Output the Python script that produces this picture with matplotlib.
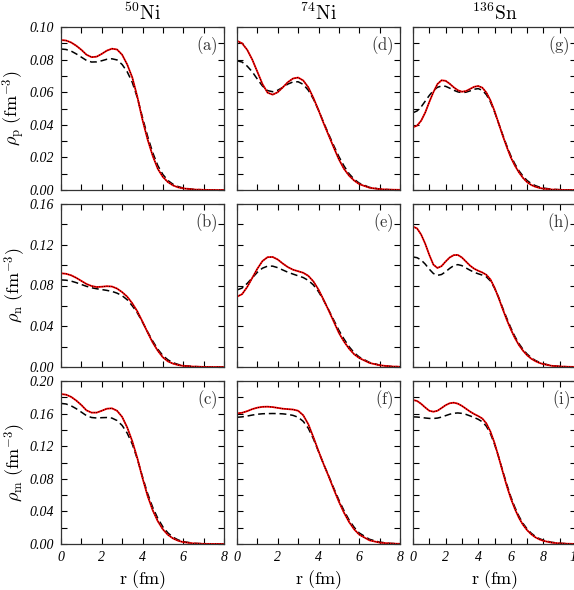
import matplotlib
matplotlib.use('Agg')
import matplotlib.pyplot as plt
from matplotlib.ticker import MultipleLocator, FuncFormatter

plt.rcParams['mathtext.fontset'] = 'cm'
plt.rcParams['font.family'] = 'serif'
plt.rcParams['font.serif'] = ['Liberation Serif', 'DejaVu Serif']

# radial grids (fm)
r_ni = [0, 0.25, 0.5, 0.75, 1, 1.25, 1.5, 1.75, 2, 2.25, 2.5, 2.75, 3, 3.25, 3.5, 3.75,
        4, 4.25, 4.5, 4.75, 5, 5.25, 5.5, 5.75, 6, 6.5, 7, 7.5, 8]
r_sn = [0, 0.25, 0.5, 0.75, 1, 1.25, 1.5, 1.75, 2, 2.25, 2.5, 2.75, 3, 3.25, 3.5, 3.75,
        4, 4.25, 4.5, 4.75, 5, 5.25, 5.5, 5.75, 6, 6.25, 6.5, 6.75, 7, 7.25, 7.5, 7.75,
        8, 8.5, 9, 9.5, 10]

# 50Ni  (red = solid/dotted, blk = dashed)
ni50_p_red = [0.0920, 0.0917, 0.0905, 0.0885, 0.0860, 0.0830, 0.0815, 0.0818, 0.0835, 0.0855, 0.0867, 0.0862, 0.0830, 0.0770,
              0.0690, 0.0570, 0.0430, 0.0310, 0.0210, 0.0130, 0.0080, 0.0048, 0.0028, 0.0016, 0.0010, 0.0003, 0.0001, 0.0, 0.0]
ni50_p_blk = [0.0865, 0.0862, 0.0852, 0.0835, 0.0815, 0.0795, 0.0785, 0.0786, 0.0793, 0.0802, 0.0805, 0.0798, 0.0770, 0.0725,
              0.0660, 0.0565, 0.0445, 0.0330, 0.0230, 0.0150, 0.0095, 0.0058, 0.0035, 0.0021, 0.0012, 0.0004, 0.0001, 0.0, 0.0]
ni50_n_red = [0.0920, 0.0915, 0.0900, 0.0875, 0.0845, 0.0815, 0.0795, 0.0785, 0.0788, 0.0793, 0.0790, 0.0770, 0.0735, 0.0690,
              0.0625, 0.0545, 0.0445, 0.0340, 0.0240, 0.0160, 0.0095, 0.0055, 0.0033, 0.0019, 0.0011, 0.0004, 0.0001, 0.0, 0.0]
ni50_n_blk = [0.0855, 0.0852, 0.0843, 0.0828, 0.0810, 0.0792, 0.0778, 0.0768, 0.0760, 0.0752, 0.0742, 0.0725, 0.0700, 0.0660,
              0.0600, 0.0530, 0.0440, 0.0345, 0.0255, 0.0175, 0.0112, 0.0070, 0.0042, 0.0025, 0.0014, 0.0005, 0.0001, 0.0, 0.0]
ni50_m_red = [0.1840, 0.1832, 0.1805, 0.1760, 0.1705, 0.1640, 0.1612, 0.1612, 0.1635, 0.1660, 0.1665, 0.1635, 0.1560, 0.1430,
              0.1260, 0.1050, 0.0810, 0.0590, 0.0415, 0.0280, 0.0180, 0.0112, 0.0068, 0.0040, 0.0023, 0.0007, 0.0002, 0.0001, 0.0]
ni50_m_blk = [0.1725, 0.1718, 0.1695, 0.1660, 0.1618, 0.1575, 0.1552, 0.1546, 0.1550, 0.1552, 0.1545, 0.1515, 0.1455, 0.1360,
              0.1225, 0.1040, 0.0825, 0.0620, 0.0450, 0.0315, 0.0210, 0.0135, 0.0083, 0.0050, 0.0029, 0.0009, 0.0003, 0.0001, 0.0]

# 74Ni
ni74_p_red = [0.0915, 0.0900, 0.0860, 0.0800, 0.0725, 0.0650, 0.0597, 0.0585, 0.0600, 0.0630, 0.0662, 0.0684, 0.0690, 0.0672,
              0.0630, 0.0565, 0.0490, 0.0410, 0.0335, 0.0260, 0.0188, 0.0130, 0.0088, 0.0058, 0.0036, 0.0014, 0.0005, 0.0002, 0.0001]
ni74_p_blk = [0.0793, 0.0785, 0.0760, 0.0725, 0.0680, 0.0638, 0.0610, 0.0603, 0.0612, 0.0630, 0.0650, 0.0663, 0.0664, 0.0648,
              0.0612, 0.0558, 0.0490, 0.0415, 0.0342, 0.0272, 0.0205, 0.0148, 0.0100, 0.0066, 0.0042, 0.0016, 0.0006, 0.0002, 0.0001]
ni74_n_red = [0.0690, 0.0715, 0.0785, 0.0875, 0.0965, 0.1040, 0.1078, 0.1080, 0.1055, 0.1015, 0.0980, 0.0955, 0.0940, 0.0925,
              0.0895, 0.0840, 0.0760, 0.0660, 0.0555, 0.0445, 0.0335, 0.0250, 0.0180, 0.0125, 0.0088, 0.0040, 0.0017, 0.0006, 0.0002]
ni74_n_blk = [0.0756, 0.0775, 0.0820, 0.0875, 0.0930, 0.0970, 0.0990, 0.0990, 0.0975, 0.0952, 0.0930, 0.0912, 0.0895, 0.0878,
              0.0850, 0.0805, 0.0740, 0.0655, 0.0560, 0.0460, 0.0360, 0.0275, 0.0200, 0.0140, 0.0098, 0.0045, 0.0019, 0.0007, 0.0002]
ni74_m_red = [0.1603, 0.1610, 0.1630, 0.1655, 0.1673, 0.1683, 0.1685, 0.1680, 0.1670, 0.1660, 0.1655, 0.1650, 0.1635, 0.1580,
              0.1470, 0.1310, 0.1140, 0.0980, 0.0830, 0.0670, 0.0520, 0.0385, 0.0270, 0.0180, 0.0115, 0.0045, 0.0017, 0.0006, 0.0002]
ni74_m_blk = [0.1555, 0.1560, 0.1570, 0.1582, 0.1592, 0.1598, 0.1600, 0.1601, 0.1600, 0.1597, 0.1590, 0.1578, 0.1555, 0.1505,
              0.1420, 0.1290, 0.1135, 0.0980, 0.0835, 0.0685, 0.0540, 0.0410, 0.0295, 0.0205, 0.0135, 0.0058, 0.0023, 0.0008, 0.0003]

# 136Sn
sn136_p_red = [0.0385, 0.0395, 0.0425, 0.0475, 0.0540, 0.0600, 0.0650, 0.0673, 0.0670, 0.0652, 0.0630, 0.0612, 0.0603, 0.0607,
               0.0620, 0.0633, 0.0638, 0.0628, 0.0598, 0.0550, 0.0485, 0.0410, 0.0335, 0.0265, 0.0200, 0.0150, 0.0108, 0.0074,
               0.0048, 0.0031, 0.0020, 0.0013, 0.0008, 0.0003, 0.0001, 0.0, 0.0]
sn136_p_blk = [0.0474, 0.0485, 0.0510, 0.0545, 0.0580, 0.0610, 0.0630, 0.0638, 0.0636, 0.0625, 0.0612, 0.0602, 0.0597, 0.0600,
               0.0608, 0.0618, 0.0622, 0.0612, 0.0585, 0.0540, 0.0480, 0.0410, 0.0340, 0.0272, 0.0210, 0.0160, 0.0118, 0.0085,
               0.0058, 0.0040, 0.0027, 0.0018, 0.0012, 0.0005, 0.0002, 0.0001, 0.0]
sn136_n_red = [0.1378, 0.1360, 0.1300, 0.1210, 0.1100, 0.1005, 0.0972, 0.0990, 0.1035, 0.1075, 0.1098, 0.1100, 0.1075, 0.1035,
               0.0995, 0.0965, 0.0945, 0.0928, 0.0905, 0.0860, 0.0780, 0.0680, 0.0570, 0.0465, 0.0370, 0.0285, 0.0215, 0.0160,
               0.0115, 0.0082, 0.0058, 0.0040, 0.0028, 0.0012, 0.0005, 0.0002, 0.0001]
sn136_n_blk = [0.1080, 0.1073, 0.1050, 0.1010, 0.0960, 0.0918, 0.0900, 0.0908, 0.0935, 0.0968, 0.0995, 0.1005, 0.0995, 0.0972,
               0.0950, 0.0930, 0.0915, 0.0902, 0.0885, 0.0845, 0.0775, 0.0685, 0.0580, 0.0480, 0.0385, 0.0300, 0.0230, 0.0173,
               0.0127, 0.0092, 0.0065, 0.0046, 0.0032, 0.0014, 0.0006, 0.0002, 0.0001]
sn136_m_red = [0.1767, 0.1755, 0.1720, 0.1675, 0.1635, 0.1623, 0.1635, 0.1668, 0.1703, 0.1727, 0.1734, 0.1722, 0.1695, 0.1660,
               0.1625, 0.1595, 0.1570, 0.1540, 0.1480, 0.1380, 0.1240, 0.1070, 0.0890, 0.0715, 0.0560, 0.0430, 0.0320, 0.0235,
               0.0170, 0.0120, 0.0083, 0.0057, 0.0039, 0.0017, 0.0007, 0.0003, 0.0001]
sn136_m_blk = [0.1560, 0.1558, 0.1553, 0.1546, 0.1541, 0.1540, 0.1545, 0.1557, 0.1575, 0.1592, 0.1604, 0.1608, 0.1603, 0.1590,
               0.1572, 0.1552, 0.1530, 0.1500, 0.1445, 0.1355, 0.1225, 0.1070, 0.0900, 0.0735, 0.0580, 0.0450, 0.0340, 0.0252,
               0.0185, 0.0133, 0.0094, 0.0066, 0.0046, 0.0021, 0.0009, 0.0004, 0.0001]

titles = [r'$^{50}\mathrm{Ni}$', r'$^{74}\mathrm{Ni}$', r'$^{136}\mathrm{Sn}$']
ylabels = [r'$\rho_{\rm p}\ (\mathrm{fm}^{-3})$', r'$\rho_{\rm n}\ (\mathrm{fm}^{-3})$', r'$\rho_{\rm m}\ (\mathrm{fm}^{-3})$']
letters = [['(a)', '(d)', '(g)'], ['(b)', '(e)', '(h)'], ['(c)', '(f)', '(i)']]
ymax = [0.10, 0.16, 0.20]
ymajor = [0.02, 0.04, 0.04]
yminor = [0.01, 0.02, 0.02]
xmax = [8, 8, 10]

radii = [r_ni, r_ni, r_sn]
red = [[ni50_p_red, ni74_p_red, sn136_p_red],
       [ni50_n_red, ni74_n_red, sn136_n_red],
       [ni50_m_red, ni74_m_red, sn136_m_red]]
blk = [[ni50_p_blk, ni74_p_blk, sn136_p_blk],
       [ni50_n_blk, ni74_n_blk, sn136_n_blk],
       [ni50_m_blk, ni74_m_blk, sn136_m_blk]]

W, H = 574, 590
fig = plt.figure(figsize=(W/100, H/100), dpi=100)

# panel placement in pixels
lefts = [61, 237, 413]
tops = [27, 204, 381]
size = 163

for i in range(3):
    for j in range(3):
        ax = fig.add_axes([lefts[j]/W, 1-(tops[i]+size)/H, size/W, size/H])
        r = radii[j]
        ax.plot(r, blk[i][j], color='black', lw=1.1, ls=(0, (4.5, 2.5)))
        ax.plot(r, red[i][j], color='red', lw=1.3)
        ax.plot(r, red[i][j], color='black', lw=0.7, ls=(0, (1, 1.5)))
        ax.set_xlim(0, xmax[j])
        ax.set_ylim(0, ymax[i])
        ax.xaxis.set_major_locator(MultipleLocator(2))
        ax.xaxis.set_minor_locator(MultipleLocator(1))
        ax.yaxis.set_major_locator(MultipleLocator(ymajor[i]))
        ax.yaxis.set_minor_locator(MultipleLocator(yminor[i]))
        ax.tick_params(which='both', direction='in', top=True, right=True,
                       length=4, width=0.8, labelsize=10, pad=5)
        for s in ax.spines.values():
            s.set_linewidth(0.9)
            s.set_color('#333333')
        if j == 0:
            ax.yaxis.set_major_formatter(FuncFormatter(lambda v, p: '%.2f' % v))
            for t in ax.get_yticklabels():
                t.set_fontstyle('italic')
            ax.set_ylabel(ylabels[i], fontsize=13)
            ax.yaxis.set_label_coords(-0.2, 0.5)
        else:
            ax.set_yticklabels([])
        if i == 2:
            ax.xaxis.set_major_formatter(FuncFormatter(lambda v, p: '%d' % v))
            for t in ax.get_xticklabels():
                t.set_fontstyle('italic')
            ax.set_xlabel(r'$\mathrm{r\ (fm)}$', fontsize=13)
            ax.xaxis.set_label_coords(0.5, -0.15)
        else:
            ax.set_xticklabels([])
        if i == 0:
            ax.set_title(titles[j], fontsize=14, pad=5)
        ax.text(0.96, 0.885, r'$\mathrm{%s}$' % letters[i][j], transform=ax.transAxes,
                ha='right', va='center', fontsize=12, color='#333333')

fig.savefig('out.png', dpi=100)
